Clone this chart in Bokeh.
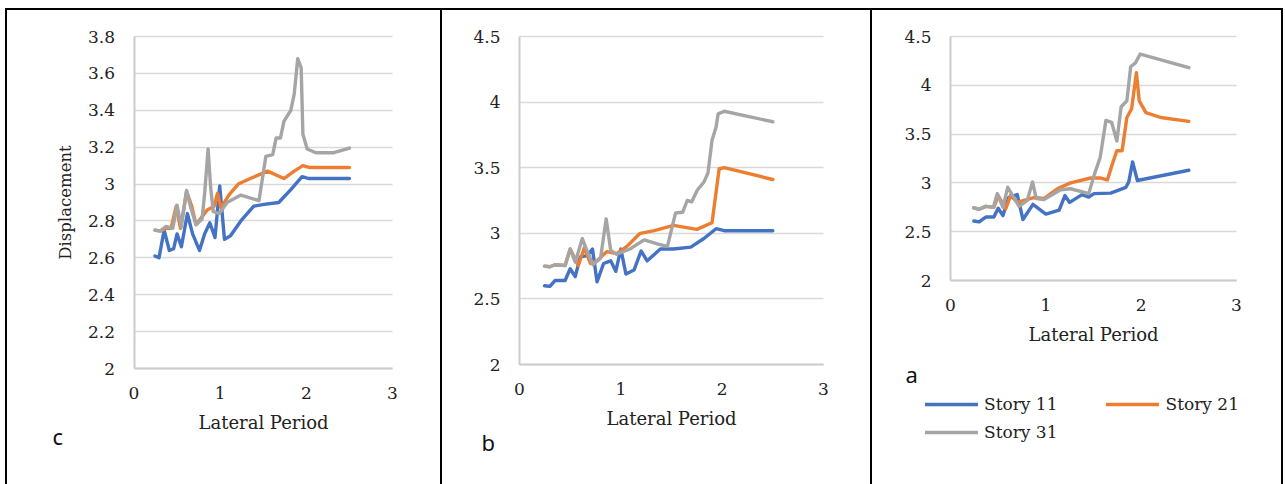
from bokeh.plotting import figure
from bokeh.layouts import row, column
from bokeh.models import (Range1d, FixedTicker, NumeralTickFormatter, Label, LinearAxis, Grid,
                          Legend, LegendItem, Div, Spacer)
from bokeh.embed import file_html
from bokeh.resources import INLINE

# ---------------- data ----------------
# panel c
c_t11 = [0.244, 0.29, 0.35, 0.41, 0.46, 0.50, 0.55, 0.62, 0.68, 0.76, 0.82, 0.88, 0.94, 0.995,
         1.05, 1.12, 1.24, 1.39, 1.51, 1.68, 1.82, 1.95, 2.03, 2.5]
c_d11 = [2.61, 2.60, 2.75, 2.64, 2.65, 2.73, 2.66, 2.84, 2.73, 2.64, 2.73, 2.79, 2.71, 2.99,
         2.70, 2.72, 2.80, 2.88, 2.89, 2.90, 2.97, 3.04, 3.03, 3.03]
c_t21 = [0.244, 0.31, 0.37, 0.43, 0.49, 0.54, 0.61, 0.67, 0.72, 0.77, 0.85, 0.93, 0.97, 1.01,
         1.10, 1.21, 1.35, 1.55, 1.74, 1.86, 1.96, 2.03, 2.5]
c_d21 = [2.75, 2.745, 2.76, 2.76, 2.88, 2.76, 2.96, 2.88, 2.78, 2.81, 2.86, 2.88, 2.95, 2.87,
         2.94, 3.00, 3.03, 3.07, 3.03, 3.07, 3.10, 3.09, 3.09]
c_t31 = [0.244, 0.30, 0.37, 0.45, 0.50, 0.55, 0.61, 0.66, 0.72, 0.79, 0.82, 0.86, 0.89, 0.92,
         0.99, 1.08, 1.24, 1.45, 1.53, 1.61, 1.65, 1.70, 1.74, 1.82, 1.86, 1.90, 1.94, 1.96,
         2.01, 2.11, 2.32, 2.5]
c_d31 = [2.75, 2.745, 2.77, 2.76, 2.885, 2.77, 2.965, 2.87, 2.78, 2.81, 2.95, 3.19, 2.98, 2.85,
         2.84, 2.90, 2.94, 2.91, 3.15, 3.16, 3.25, 3.25, 3.34, 3.40, 3.49, 3.68, 3.63, 3.27,
         3.19, 3.17, 3.17, 3.195]

# panel b
b_t11 = [0.247, 0.30, 0.35, 0.45, 0.50, 0.55, 0.60, 0.67, 0.72, 0.765, 0.83, 0.90, 0.95, 1.00,
         1.05, 1.13, 1.20, 1.26, 1.39, 1.52, 1.69, 1.82, 1.94, 2.02, 2.5]
b_d11 = [2.60, 2.595, 2.64, 2.64, 2.73, 2.67, 2.82, 2.83, 2.88, 2.63, 2.77, 2.79, 2.71, 2.88,
         2.69, 2.72, 2.865, 2.79, 2.88, 2.88, 2.895, 2.96, 3.035, 3.02, 3.02]
b_t21 = [0.247, 0.30, 0.35, 0.45, 0.50, 0.58, 0.64, 0.70, 0.765, 0.86, 0.96, 1.06, 1.19, 1.33,
         1.52, 1.75, 1.90, 1.97, 2.02, 2.5]
b_d21 = [2.75, 2.745, 2.76, 2.755, 2.88, 2.755, 2.89, 2.77, 2.79, 2.86, 2.845, 2.90, 3.00, 3.02,
         3.06, 3.03, 3.08, 3.49, 3.50, 3.41]
b_t31 = [0.247, 0.30, 0.35, 0.45, 0.50, 0.55, 0.62, 0.665, 0.725, 0.80, 0.855, 0.90, 0.96, 1.09,
         1.23, 1.36, 1.46, 1.54, 1.61, 1.655, 1.70, 1.755, 1.82, 1.86, 1.90, 1.94, 1.96, 2.02, 2.5]
b_d31 = [2.75, 2.745, 2.76, 2.755, 2.88, 2.78, 2.96, 2.87, 2.76, 2.81, 3.11, 2.87, 2.84, 2.88,
         2.95, 2.92, 2.90, 3.155, 3.16, 3.25, 3.24, 3.33, 3.39, 3.46, 3.71, 3.81, 3.91, 3.93, 3.85]

# panel a
a_t11 = [0.245, 0.30, 0.37, 0.455, 0.50, 0.55, 0.61, 0.70, 0.76, 0.865, 1.00, 1.14, 1.20, 1.25,
         1.38, 1.45, 1.505, 1.68, 1.84, 1.87, 1.91, 1.96, 2.5]
a_d11 = [2.61, 2.60, 2.65, 2.65, 2.74, 2.665, 2.85, 2.88, 2.625, 2.78, 2.68, 2.72, 2.87, 2.80,
         2.88, 2.855, 2.89, 2.895, 2.955, 3.01, 3.215, 3.025, 3.13]
a_t21 = [0.245, 0.30, 0.37, 0.455, 0.50, 0.58, 0.63, 0.70, 0.77, 0.875, 0.98, 1.12, 1.26, 1.47,
         1.575, 1.645, 1.70, 1.745, 1.80, 1.85, 1.90, 1.95, 1.98, 2.05, 2.205, 2.5]
a_d21 = [2.745, 2.73, 2.76, 2.75, 2.87, 2.735, 2.87, 2.80, 2.82, 2.85, 2.84, 2.94, 3.00, 3.05,
         3.05, 3.03, 3.20, 3.33, 3.33, 3.67, 3.76, 4.13, 3.84, 3.72, 3.67, 3.63]
a_t31 = [0.245, 0.30, 0.37, 0.45, 0.49, 0.55, 0.60, 0.665, 0.72, 0.805, 0.86, 0.90, 0.98, 1.155,
         1.26, 1.45, 1.51, 1.57, 1.63, 1.69, 1.745, 1.79, 1.85, 1.89, 1.94, 1.99, 2.5]
a_d31 = [2.745, 2.73, 2.76, 2.75, 2.89, 2.75, 2.955, 2.85, 2.76, 2.82, 3.01, 2.84, 2.83, 2.93,
         2.94, 2.89, 3.09, 3.26, 3.64, 3.62, 3.43, 3.78, 3.84, 4.19, 4.23, 4.32, 4.18]

x_ticks = [0, 1, 2, 3]
c_y_ticks = [2, 2.2, 2.4, 2.6, 2.8, 3, 3.2, 3.4, 3.6, 3.8]
ab_y_ticks = [2, 2.5, 3, 3.5, 4, 4.5]

series_names = ["Story 11", "Story 21", "Story 31"]
series_colors = ["#4472C4", "#ED7D31", "#A5A5A5"]

SERIF = "DejaVu Serif"
TEXT = "#222222"
PANEL_H = 474


def make_panel(width, box, y_lo, y_hi, y_ticks, series, y_label=None):
    """box = (left, top, w, h) of the plotting area inside the panel, in px.
    The frame covers the whole panel; axes sit at fixed data locations."""
    left, top, bw, bh = box
    sx = bw / (x_ticks[-1] - x_ticks[0])
    sy = bh / (y_hi - y_lo)
    xr = Range1d(x_ticks[0] - left / sx, x_ticks[-1] + (width - left - bw) / sx)
    yr = Range1d(y_lo - (PANEL_H - top - bh) / sy, y_hi + top / sy)
    p = figure(width=width, height=PANEL_H, x_range=xr, y_range=yr,
               output_backend="svg", toolbar_location=None,
               x_axis_location=None, y_axis_location=None,
               min_border=0, min_border_left=0, min_border_right=0,
               min_border_top=0, min_border_bottom=0)
    p.outline_line_color = None
    p.background_fill_color = "white"
    p.border_fill_color = "white"
    for g in p.grid:
        g.visible = False

    grid = Grid(dimension=1, ticker=FixedTicker(ticks=y_ticks),
                cross_bounds=(x_ticks[0], x_ticks[-1]),
                grid_line_color="#d9d9d9", grid_line_width=1.6)
    p.add_layout(grid)

    xaxis = LinearAxis(fixed_location=y_lo, bounds=(x_ticks[0], x_ticks[-1]),
                       ticker=FixedTicker(ticks=x_ticks))
    yaxis = LinearAxis(fixed_location=x_ticks[0], bounds=(y_lo, y_hi),
                       ticker=FixedTicker(ticks=y_ticks))
    for ax in (xaxis, yaxis):
        ax.formatter = NumeralTickFormatter(format="0.[0]")
        ax.axis_line_color = "#cccccc"
        ax.axis_line_width = 2
        ax.major_tick_line_color = None
        ax.minor_tick_line_color = None
        ax.major_tick_in = 0
        ax.major_tick_out = 0
        ax.minor_tick_out = 0
        ax.major_label_text_font = SERIF
        ax.major_label_text_font_size = "17px"
        ax.major_label_text_color = TEXT
        ax.axis_label_text_font = SERIF
        ax.axis_label_text_font_style = "normal"
        ax.axis_label_text_color = TEXT
    xaxis.major_label_standoff = 18
    xaxis.axis_label = "Lateral Period"
    xaxis.axis_label_text_font_size = "18px"
    xaxis.axis_label_standoff = 10
    yaxis.major_label_standoff = 19
    if y_label:
        yaxis.axis_label = y_label
        yaxis.axis_label_text_font_size = "16.5px"
        yaxis.axis_label_standoff = 10
    p.add_layout(xaxis, "below")
    p.add_layout(yaxis, "left")

    renderers = []
    for (t, d), color in zip(series, series_colors):
        r = p.line(t, d, line_color=color, line_width=3.4, line_join="round", line_cap="round")
        renderers.append(r)
    return p, renderers


def panel_letter(p, letter, x, y):
    p.add_layout(Label(x=x, y=y, x_units="screen", y_units="screen", text=letter,
                       text_font="Noto Sans", text_font_size="22px", text_color="#111111",
                       text_baseline="alphabetic", text_align="left"))


p_c, _ = make_panel(433, (126.5, 26, 258.5, 332), 2, 3.8, c_y_ticks,
                    [(c_t11, c_d11), (c_t21, c_d21), (c_t31, c_d31)], y_label="Displacement")
panel_letter(p_c, "c", 45, 49)

p_b, _ = make_panel(428, (77, 26, 304, 328), 2, 4.5, ab_y_ticks,
                    [(b_t11, b_d11), (b_t21, b_d21), (b_t31, b_d31)])
panel_letter(p_b, "b", 39, 43)

p_a, rs = make_panel(409, (78, 26, 286, 244), 2, 4.5, ab_y_ticks,
                     [(a_t11, a_d11), (a_t21, a_d21), (a_t31, a_d31)])
panel_letter(p_a, "a", 33, 111)

legend_style = dict(orientation="horizontal", glyph_width=53, glyph_height=20, label_height=20,
                    label_standoff=6, padding=0, margin=0, border_line_color=None,
                    background_fill_alpha=0, label_text_font=SERIF, label_text_font_size="17px",
                    label_text_color=TEXT)
leg1 = Legend(items=[LegendItem(label=series_names[0], renderers=[rs[0]]),
                     LegendItem(label=series_names[1], renderers=[rs[1]])],
              location=(53, 70), spacing=49, **legend_style)
leg2 = Legend(items=[LegendItem(label=series_names[2], renderers=[rs[2]])],
              location=(53, 42), **legend_style)
p_a.add_layout(leg1)
p_a.add_layout(leg2)


def bar(w, h):
    return Div(width=w, height=h, margin=0, styles={"background-color": "black"})


top_line = row(Spacer(width=5, height=2, margin=0), bar(1278, 2), margin=0)
panels = row(Spacer(width=5, height=PANEL_H, margin=0), bar(2, PANEL_H), p_c, bar(2, PANEL_H), p_b,
             bar(2, PANEL_H), p_a, bar(2, PANEL_H), margin=0)
page = column(Spacer(width=1283, height=8, margin=0), top_line, panels, margin=0)

open("out.html", "w").write(file_html(page, INLINE))
